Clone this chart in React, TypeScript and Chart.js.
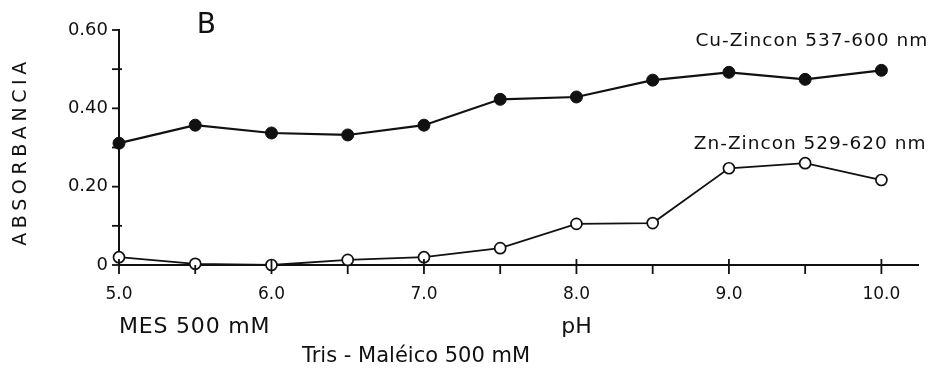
import { useEffect, useRef } from 'react';
import { Chart, registerables } from 'chart.js';

Chart.register(...registerables);

const pHValues = [5.0, 5.5, 6.0, 6.5, 7.0, 7.5, 8.0, 8.5, 9.0, 9.5, 10.0];
const cuZincon = [0.311, 0.357, 0.337, 0.332, 0.357, 0.423, 0.429, 0.472, 0.492, 0.474, 0.497];
const znZincon = [0.02, 0.003, 0.0, 0.013, 0.02, 0.043, 0.105, 0.107, 0.247, 0.26, 0.217];

const xTickValues = [5.0, 5.5, 6.0, 6.5, 7.0, 7.5, 8.0, 8.5, 9.0, 9.5, 10.0];
const xTickLabels = ['5.0', '', '6.0', '', '7.0', '', '8.0', '', '9.0', '', '10.0'];
const yTickValues = [0, 0.1, 0.2, 0.3, 0.4, 0.5, 0.6];
const yTickLabels = ['0', '', '0.20', '', '0.40', '', '0.60'];

const yTitle = 'ABSORBANCIA';
const panelLetter = 'B';
const cuLabel = 'Cu-Zincon 537-600 nm';
const znLabel = 'Zn-Zincon 529-620 nm';
const xTitleLeft = 'MES 500 mM';
const xTitleCenter = 'pH';
const xTitleBottom = 'Tris - Maléico 500 mM';

const FONT = "'DejaVu Sans', sans-serif";
const INK = '#111';

const decorPlugin = {
  id: 'decor',
  afterDraw(chart: any) {
    const ctx = chart.ctx as CanvasRenderingContext2D;
    const xs = chart.scales.x;
    const ys = chart.scales.y;
    const y0 = ys.getPixelForValue(0);
    const x0 = xs.getPixelForValue(5);
    ctx.save();
    ctx.strokeStyle = INK;
    ctx.lineWidth = 1.8;
    // x ticks
    xTickValues.forEach((v, i) => {
      const px = xs.getPixelForValue(v);
      const major = xTickLabels[i] !== '';
      ctx.beginPath();
      ctx.moveTo(px, y0 + 9);
      ctx.lineTo(px, major ? y0 - 6 : y0);
      ctx.stroke();
    });
    // y ticks
    yTickValues.forEach((v, i) => {
      const py = ys.getPixelForValue(v);
      const major = yTickLabels[i] !== '';
      ctx.beginPath();
      ctx.moveTo(x0 - 7, py);
      ctx.lineTo(major ? x0 : x0 + 3, py);
      ctx.stroke();
    });

    ctx.fillStyle = INK;
    // y title
    ctx.save();
    ctx.font = `19px ${FONT}`;
    (ctx as any).letterSpacing = '4.6px';
    ctx.translate(26, ys.getPixelForValue(0.29));
    ctx.rotate(-Math.PI / 2);
    ctx.textAlign = 'center';
    ctx.textBaseline = 'alphabetic';
    ctx.fillText(yTitle, 0, 0);
    ctx.restore();

    // panel letter
    ctx.font = `28px ${FONT}`;
    ctx.textAlign = 'left';
    ctx.textBaseline = 'alphabetic';
    ctx.fillText(panelLetter, xs.getPixelForValue(5.51), 33);

    // series labels
    ctx.save();
    ctx.font = `18.5px ${FONT}`;
    (ctx as any).letterSpacing = '1px';
    ctx.fillText(cuLabel, xs.getPixelForValue(8.78), ys.getPixelForValue(0.56));
    ctx.fillText(znLabel, xs.getPixelForValue(8.77), ys.getPixelForValue(0.296));
    ctx.restore();

    // x titles
    ctx.save();
    ctx.font = `22px ${FONT}`;
    ctx.textAlign = 'left';
    (ctx as any).letterSpacing = '0.8px';
    ctx.fillText(xTitleLeft, xs.getPixelForValue(5.0), 333);
    ctx.restore();
    ctx.font = `22px ${FONT}`;
    ctx.textAlign = 'center';
    ctx.fillText(xTitleCenter, xs.getPixelForValue(8.0), 333);
    ctx.font = `21px ${FONT}`;
    ctx.textAlign = 'left';
    ctx.fillText(xTitleBottom, xs.getPixelForValue(6.2), 362);
    ctx.restore();
  },
};

export default function App() {
  const canvasRef = useRef<HTMLCanvasElement | null>(null);

  useEffect(() => {
    if (!canvasRef.current) return;
    const chart = new Chart(canvasRef.current, {
      type: 'line',
      data: {
        datasets: [
          {
            label: cuLabel,
            data: pHValues.map((x, i) => ({ x, y: cuZincon[i] })),
            borderColor: INK,
            backgroundColor: INK,
            borderWidth: 2.2,
            pointRadius: 6,
            pointBorderWidth: 1,
            pointBorderColor: INK,
            pointBackgroundColor: INK,
            tension: 0,
            clip: false,
          },
          {
            label: znLabel,
            data: pHValues.map((x, i) => ({ x, y: znZincon[i] })),
            borderColor: INK,
            backgroundColor: '#fff',
            borderWidth: 1.8,
            pointRadius: 5.5,
            pointBorderWidth: 1.7,
            pointBorderColor: INK,
            pointBackgroundColor: '#fff',
            tension: 0,
            clip: false,
          },
        ],
      },
      options: {
        animation: false,
        responsive: false,
        maintainAspectRatio: false,
        layout: { padding: { top: 30, right: 14, left: 0, bottom: 0 } },
        plugins: {
          legend: { display: false },
          tooltip: { enabled: false },
          title: { display: false },
        },
        scales: {
          x: {
            type: 'linear',
            min: 5,
            max: 10.24,
            afterFit: (scale: any) => {
              scale.height = 104;
            },
            afterBuildTicks: (scale: any) => {
              scale.ticks = xTickValues.map((v) => ({ value: v }));
            },
            grid: { display: false, drawTicks: false },
            border: { display: true, color: INK, width: 2 },
            ticks: {
              autoSkip: false,
              maxRotation: 0,
              padding: 19,
              color: INK,
              font: { family: FONT, size: 17 },
              callback: (_v: any, i: number) => xTickLabels[i],
            },
          },
          y: {
            type: 'linear',
            min: 0,
            max: 0.6,
            afterFit: (scale: any) => {
              scale.width = 119;
            },
            afterBuildTicks: (scale: any) => {
              scale.ticks = yTickValues.map((v) => ({ value: v }));
            },
            grid: { display: false, drawTicks: false },
            border: { display: true, color: INK, width: 2 },
            ticks: {
              autoSkip: false,
              padding: 11,
              color: INK,
              font: { family: FONT, size: 18 },
              callback: (_v: any, i: number) => yTickLabels[i],
            },
          },
        },
      },
      plugins: [decorPlugin],
    });
    return () => chart.destroy();
  }, []);

  return (
    <div style={{ position: 'fixed', left: 0, top: 0, width: 932, height: 369, background: '#fff' }}>
      <canvas ref={canvasRef} width={932} height={369} style={{ display: 'block' }} />
    </div>
  );
}
